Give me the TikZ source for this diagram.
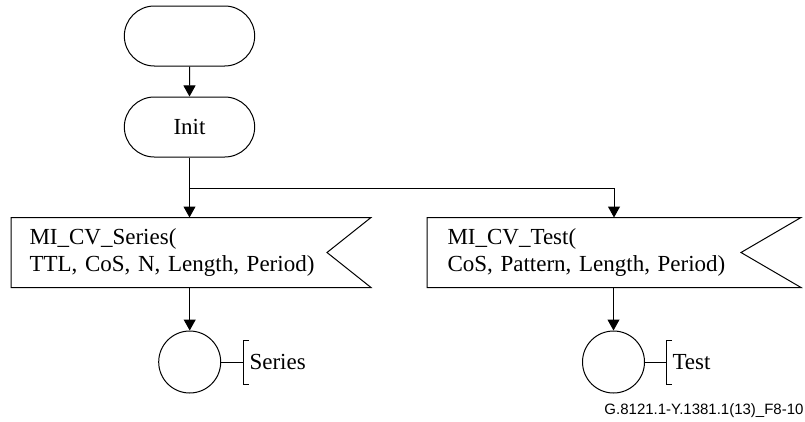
\documentclass[tikz,border=0pt]{standalone}
\usepackage{fontspec}
\setmainfont{Liberation Serif}
\newfontfamily\idfont{Liberation Sans}
\usetikzlibrary{shapes.misc, arrows.meta, positioning}

\begin{document}
\begin{tikzpicture}[x=1pt, y=-1pt, line width=1pt,
    font=\fontsize{23}{27}\selectfont,
    terminal/.style={draw, rounded rectangle, minimum width=137pt, minimum height=60pt},
    sigbox/.style={minimum height=69pt, align=left, inner ysep=0pt, anchor=west},
    endstate/.style={draw, circle, minimum size=62pt, inner sep=0pt},
    flow/.style={-{Triangle[width=12pt,length=11pt]}}]

    \useasboundingbox (0,0) rectangle (805,421);

    % Start und Init
    \node[terminal] (start) at (189.5,36) {};
    \node[terminal] (init) at (189.5,127) {Init};
    \draw[flow] (start) -- (init);

    % Signale (Flaggen)
    \node[sigbox, inner xsep=18pt, text width=323pt] (series) at (11,252.5)
        {MI\_CV\_Series(\\TTL, CoS, N, Length, Period)};
    \draw (series.north west) -- (series.north east) -- ([xshift=-44pt]series.east)
        -- (series.south east) -- (series.south west) -- cycle;

    \node[sigbox, inner xsep=20pt, text width=333pt] (test) at (427,252.5)
        {MI\_CV\_Test(\\CoS, Pattern, Length, Period)};
    \draw (test.north west) -- (test.north east) -- ([xshift=-60pt]test.east)
        -- (test.south east) -- (test.south west) -- cycle;

    % Verzweigung nach Init
    \coordinate (branch) at (189.5,188);
    \draw[flow] (init.south) -- (init.south |- series.north);
    \draw[flow] (branch) -| (test.north);

    % Endzustaende
    \node[endstate] (seriesend) at (189.7,362) {};
    \node[endstate] (testend) at (613.5,362) {};
    \draw[flow] (series.south -| seriesend) -- (seriesend);
    \draw[flow] (test.south -| testend) -- (testend);

    % Kommentare mit Klammer
    \coordinate (seriesbr) at (243,362);
    \coordinate (testbr) at (666,362);
    \draw (seriesend) -- (seriesbr);
    \draw ([shift={(6,-22)}]seriesbr) -- ++(-6,0) -- ++(0,44) -- ++(6,0);
    \node[anchor=west, inner sep=6pt] (serieslbl) at (seriesbr) {Series};
    \draw (testend) -- (testbr);
    \draw ([shift={(6,-22)}]testbr) -- ++(-6,0) -- ++(0,44) -- ++(6,0);
    \node[anchor=west, inner sep=6pt] (testlbl) at (testbr) {Test};

    % Kennung
    \node[anchor=base east, font=\idfont\fontsize{15}{18}\selectfont, inner sep=0pt]
        (figid) at (804,414) {G.8121.1-Y.1381.1(13)\_F8-10};
\end{tikzpicture}
\end{document}
